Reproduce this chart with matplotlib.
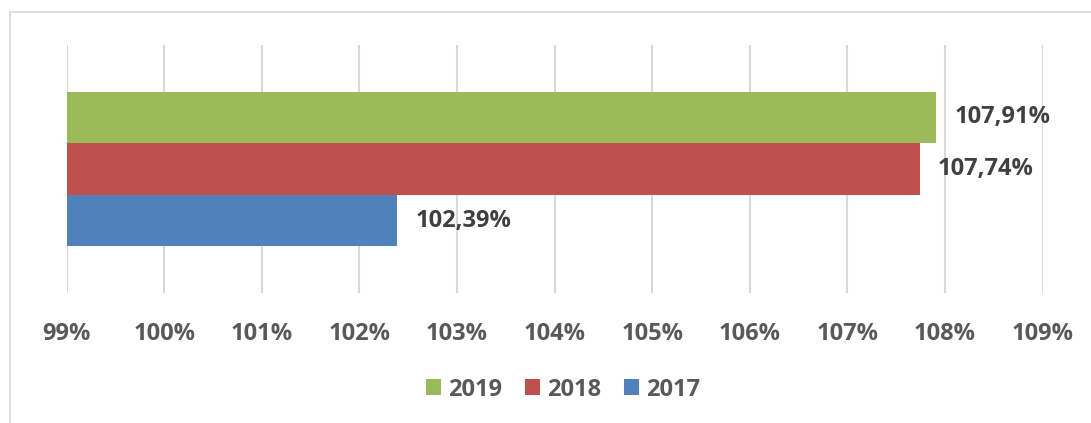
import matplotlib
matplotlib.use('Agg')
import matplotlib.pyplot as plt
from matplotlib.patches import Rectangle

# values (percent)
years = ['2017', '2018', '2019']
values = [102.39, 107.74, 107.91]
colors = ['#4F81BD', '#C0504D', '#9BBB59']
ticks = list(range(99, 110))

plt.rcParams['font.family'] = ['Open Sans', 'DejaVu Sans']
plt.rcParams['font.weight'] = 'bold'
fs = 17

fig = plt.figure(figsize=(10.91, 4.23), dpi=100)
ax = fig.add_axes([66.5 / 1091, 1 - 293 / 423, (1042.7 - 66.5) / 1091, (293 - 45) / 423])

h = 0.2083
offsets = [-h, 0, h]
bars = []
for yr, v, c, off in zip(years, values, colors, offsets):
    b = ax.barh(off, v - 99, left=99, height=h, color=c, label=yr, zorder=3)
    bars.append(b)
    ax.annotate('{:.2f}%'.format(v).replace('.', ','), xy=(v, off), xytext=(13, 0),
                textcoords='offset points', ha='left', va='center',
                fontsize=fs, fontweight='bold', color='#404040')

ax.set_xlim(99, 109)
ax.set_ylim(-0.5, 0.5)
ax.set_xticks(ticks)
ax.set_xticklabels(['{}%'.format(t) for t in ticks], fontsize=fs, fontweight='bold', color='#595959')
ax.set_yticks([])
ax.tick_params(axis='x', length=0, pad=21)
ax.grid(axis='x', color='#d9d9d9', lw=1.5, zorder=0)
for s in ax.spines.values():
    s.set_visible(False)

# chart area border
fig.patches.append(Rectangle((9.5 / 1091, -0.1), 1.2, 1.1 - 12.5 / 423, transform=fig.transFigure,
                             fill=False, edgecolor='#d9d9d9', lw=1.2))

handles = bars[::-1]
leg = fig.legend(handles, years[::-1], loc='center', bbox_to_anchor=(563 / 1091, 1 - 389.5 / 423),
                 ncol=3, frameon=False, handlelength=0.65, handleheight=0.65, handletextpad=0.3,
                 columnspacing=0.95, prop={'size': fs, 'weight': 'bold'})
for t in leg.get_texts():
    t.set_color('#595959')

fig.savefig('out.png', dpi=100)
